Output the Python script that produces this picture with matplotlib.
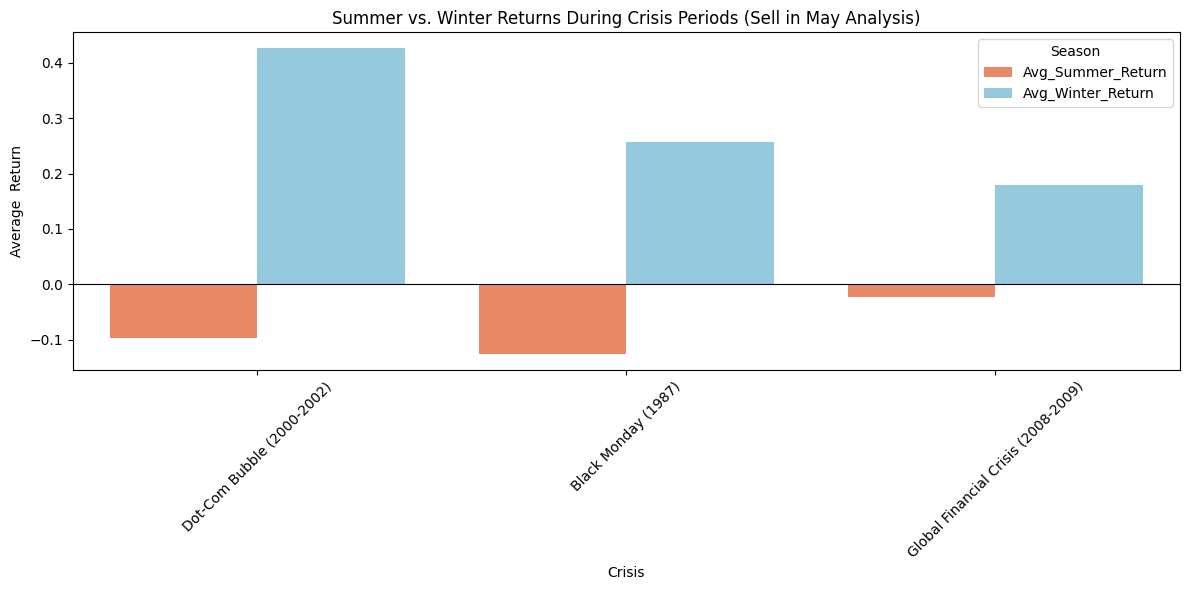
import matplotlib
matplotlib.use("Agg")
import matplotlib.pyplot as plt
import seaborn as sns
import pandas as pd

crises = ["Dot-Com Bubble (2000-2002)", "Black Monday (1987)", "Global Financial Crisis (2008-2009)"]
summer_returns = [-0.097, -0.126, -0.022]
winter_returns = [0.427, 0.256, 0.179]

df = pd.DataFrame({
    "Crisis": crises * 2,
    "Season": ["Avg_Summer_Return"] * 3 + ["Avg_Winter_Return"] * 3,
    "Return": summer_returns + winter_returns,
})

fig, ax = plt.subplots(figsize=(12, 6), dpi=100)
sns.barplot(data=df, x="Crisis", y="Return", hue="Season",
            palette=["coral", "skyblue"], ax=ax)
ax.axhline(0, color="black", linewidth=0.8)

ax.set_title("Summer vs. Winter Returns During Crisis Periods (Sell in May Analysis)")
ax.set_xlabel("Crisis")
ax.set_ylabel("Average  Return")
plt.xticks(rotation=45)
ax.legend(title="Season", loc="upper right")
plt.tight_layout()
plt.savefig("out.png", bbox_inches="tight")
